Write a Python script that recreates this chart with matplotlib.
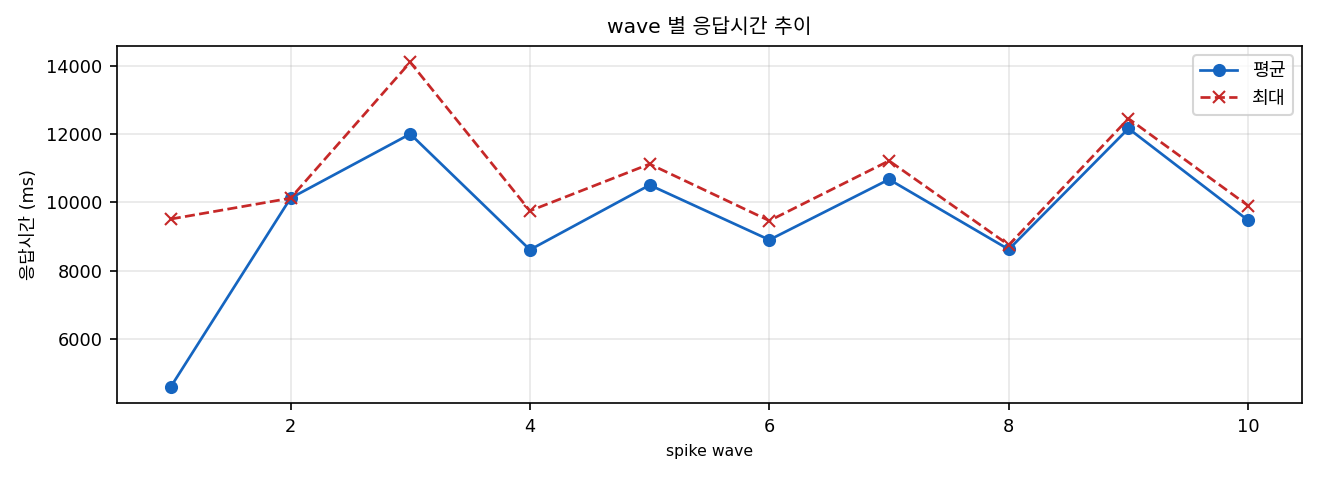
import numpy as np
import matplotlib
matplotlib.use("Agg")
import matplotlib.pyplot as plt

plt.rcParams['font.family'] = ['DejaVu Sans', 'Noto Sans CJK KR']
plt.rcParams['axes.unicode_minus'] = False

waves = [1, 2, 3, 4, 5, 6, 7, 8, 9, 10]
avg_ms = [4600, 10120, 12000, 8610, 10505, 8900, 10670, 8620, 12160, 9470]
max_ms = [9510, 10120, 14100, 9750, 11120, 9460, 11215, 8750, 12450, 9900]

fig, ax = plt.subplots(figsize=(8.8, 3.2), dpi=150)
ax.plot(waves, avg_ms, marker='o', linestyle='-', color='#1565C0', label='평균', markersize=5.3, linewidth=1.3)
ax.plot(waves, max_ms, marker='x', linestyle='--', color='#C62828', label='최대', markersize=5.3, linewidth=1.3)
ax.set_xlabel("spike wave", fontsize=7.5)
ax.set_ylabel("응답시간 (ms)", fontsize=8.5)
ax.set_title("wave 별 응답시간 추이", fontsize=9.8)
ax.tick_params(labelsize=8.5)
ax.grid(True, alpha=0.3)
ax.legend(fontsize=8.8)
fig.subplots_adjust(left=0.0886, right=0.9864, top=0.9042, bottom=0.1604)
fig.savefig("out.png", dpi=150)
